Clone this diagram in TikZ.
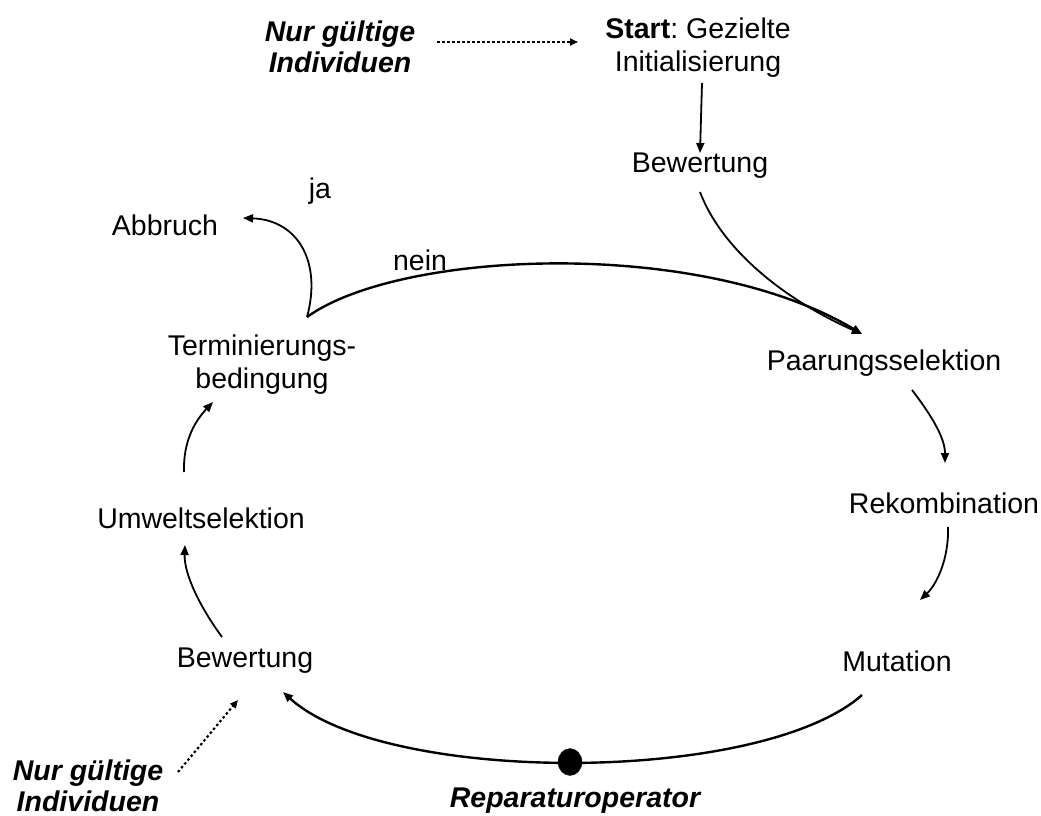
\documentclass[tikz,border=0pt]{standalone}
\usepackage{fontspec}
\setmainfont{Liberation Sans}
\usetikzlibrary{arrows.meta}
\frenchspacing
\begin{document}
\begin{tikzpicture}[x=1pt,y=-1pt,
  lbl/.style={font=\fontsize{28.5}{33}\selectfont, inner sep=0pt, align=center},
  note/.style={lbl, font=\fontsize{28.5}{31}\selectfont\bfseries\itshape},
  conn/.style={line width=1.8pt, -{Triangle[length=10pt,width=8pt]}},
  thickconn/.style={line width=2.4pt, -{Triangle[length=10pt,width=8pt]}},
  dotconn/.style={line width=2.1pt, dash pattern=on 2.5pt off 2.5pt, -{Triangle[length=8pt,width=7pt]}}]
\useasboundingbox (0,0) rectangle (1041,816);
% nodes
\node[note] (n1) at (340,47) {Nur gültige\\Individuen};
\node[lbl] (start) at (698,48) {\textbf{Start}: Gezielte\\Initialisierung};
\node[lbl] (bew1) at (700,166) {Bewertung};
\node[lbl] (abb) at (165,225) {Abbruch};
\node[lbl] (ja) at (320,191) {ja};
\node[lbl] (nein) at (420,260) {nein};
\node[lbl] (term) at (262,365) {Terminierungs-\\bedingung};
\node[lbl] (paar) at (884,363) {Paarungsselektion};
\node[lbl] (rek) at (944,503) {Rekombination};
\node[lbl] (umw) at (201,518) {Umweltselektion};
\node[lbl] (bew2) at (245,661) {Bewertung};
\node[lbl] (mut) at (897,661) {Mutation};
\node[note] (n2) at (88,786) {Nur gültige\\Individuen};
\node[note] (rep) at (575,801) {Reparaturoperator};
% connection points
\coordinate (jct) at (307,317);
\coordinate (paarin) at (862,334);
% connectors
\draw[dotconn] (437,42) -- (578,42);
\draw[conn] (702,83) -- (bew1.north);
\draw[conn] (700,192) .. controls (722,250) and (785,300) .. (paarin);
\draw[thickconn] (jct) .. controls (400,250) and (700,237) .. (paarin);
\draw[conn] (jct) .. controls (322,262) and (298,220) .. (243,218);
\draw[conn] (912,390) .. controls (935,420) and (945,440) .. (945,463);
\draw[conn] (948,527) .. controls (949,560) and (936,585) .. (920,600);
\draw[thickconn] (862,695) .. controls (760,785) and (385,785) .. (283,692);
\draw[conn] (222,637) .. controls (195,600) and (184,570) .. (185,545);
\draw[conn] (184,472) .. controls (183,440) and (196,420) .. (213,402);
\draw[dotconn] (178,772) -- (238,700);
\draw[fill=black, draw=black!80!green] (570,762) ellipse (12pt and 13.5pt);
\end{tikzpicture}
\end{document}
